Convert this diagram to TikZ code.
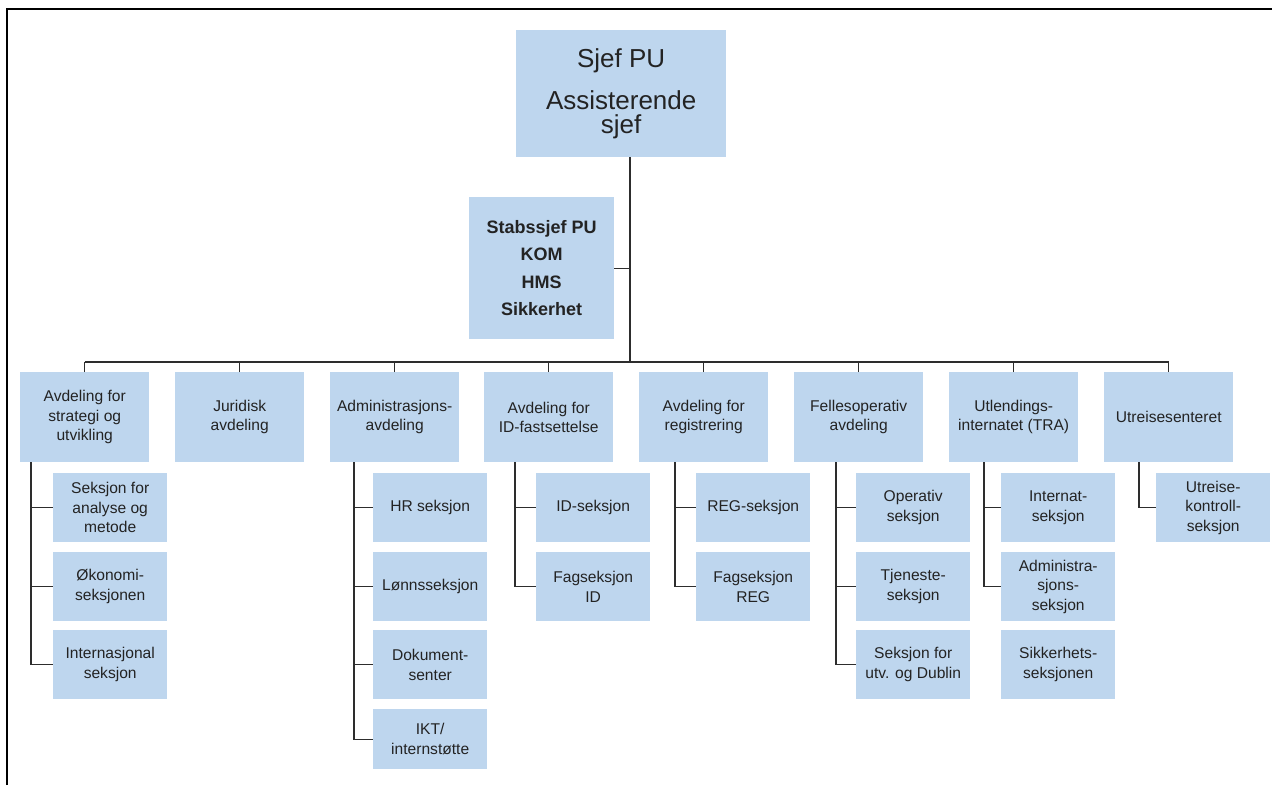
\documentclass[tikz,border=0pt]{standalone}
\usepackage{fontspec}
\setmainfont{Liberation Sans}
\definecolor{boxblue}{RGB}{190,214,238}
\definecolor{linegray}{RGB}{45,45,45}
\definecolor{textgray}{RGB}{35,35,35}
\begin{document}
\begin{tikzpicture}[x=1pt,y=-1pt,
  every node/.style={inner sep=0pt, align=center, text=textgray, fill=boxblue},
  topbox/.style={minimum width=210pt, minimum height=127pt, anchor=north west,
    font={\fontsize{26}{24}\selectfont}},
  staffbox/.style={minimum width=145pt, minimum height=142pt, anchor=north west,
    font={\fontsize{18}{27.5}\selectfont\bfseries}},
  deptbox/.style={minimum width=129pt, minimum height=90pt, anchor=north west,
    font={\fontsize{15.6}{19.5}\selectfont}},
  secbox/.style={minimum width=114pt, minimum height=69pt, anchor=north west,
    font={\fontsize{15.6}{19.5}\selectfont}},
  conn/.style={draw=linegray, line width=1.3pt},
  frame/.style={draw=black, line width=2pt}]
\useasboundingbox (0,0) rectangle (1272,785);

% frame lines
\draw[frame] (7,785) -- (7,9) -- (1272,9);

% leadership
\node[topbox] (top) at (516,30) {Sjef PU\\[16pt]Assisterende\\sjef};
\node[staffbox] (staff) at (469,197) {Stabssjef PU\\KOM\\HMS\\Sikkerhet};

% departments
\node[deptbox] (d1) at (20,372)   {Avdeling for\\strategi og\\utvikling};
\node[deptbox] (d2) at (175,372)  {Juridisk\\avdeling};
\node[deptbox] (d3) at (330,372)  {Administrasjons-\\avdeling};
\node[deptbox] (d4) at (484,372)  {Avdeling for\\ID-fastsettelse};
\node[deptbox] (d5) at (639,372)  {Avdeling for\\registrering};
\node[deptbox] (d6) at (794,372)  {Fellesoperativ\\avdeling};
\node[deptbox] (d7) at (949,372)  {Utlendings-\\internatet (TRA)};
\node[deptbox] (d8) at (1104,372) {Utreisesenteret};

% sections
\node[secbox] (s1a) at (53,473)  {Seksjon for\\analyse og\\metode};
\node[secbox] (s1b) at (53,552)  {Økonomi-\\seksjonen};
\node[secbox] (s1c) at (53,630)  {Internasjonal\\seksjon};

\node[secbox] (s3a) at (373,473) {HR seksjon};
\node[secbox] (s3b) at (373,552) {Lønnsseksjon};
\node[secbox] (s3c) at (373,630) {Dokument-\\senter};
\node[secbox, minimum height=60pt] (s3d) at (373,709) {IKT/\\internstøtte};

\node[secbox] (s4a) at (536,473) {ID-seksjon};
\node[secbox] (s4b) at (536,552) {Fagseksjon\\ID};

\node[secbox] (s5a) at (696,473) {REG-seksjon};
\node[secbox] (s5b) at (696,552) {Fagseksjon\\REG};

\node[secbox] (s6a) at (856,473) {Operativ\\seksjon};
\node[secbox] (s6b) at (856,552) {Tjeneste-\\seksjon};
\node[secbox] (s6c) at (856,630) {Seksjon for\\utv. og Dublin};

\node[secbox] (s7a) at (1001,473) {Internat-\\seksjon};
\node[secbox] (s7b) at (1001,552) {Administra-\\sjons-\\seksjon};
\node[secbox] (s7c) at (1001,630) {Sikkerhets-\\seksjonen};

\node[secbox] (s8a) at (1156,473) {Utreise-\\kontroll-\\seksjon};

% top connectors
\coordinate (trunk) at (630,157);
\coordinate (bus) at (630,362);
\draw[conn] (trunk) -- (bus);
\draw[conn] (staff.east) -- (staff.east -| bus);
\draw[conn] (d1.north |- bus) -- (d8.north |- bus);
\foreach \i in {1,...,8} \draw[conn] (d\i.north) -- (d\i.north |- bus);

% section connectors
\coordinate (v1) at (31,462);
\coordinate (v3) at (354,462);
\coordinate (v4) at (515,462);
\coordinate (v5) at (675,462);
\coordinate (v6) at (836,462);
\coordinate (v7) at (984,462);
\coordinate (v8) at (1139,462);

\draw[conn] (v1) |- (s1c.west);
\draw[conn] (v1 |- s1a.west) -- (s1a.west);
\draw[conn] (v1 |- s1b.west) -- (s1b.west);

\draw[conn] (v3) |- (s3d.west);
\draw[conn] (v3 |- s3a.west) -- (s3a.west);
\draw[conn] (v3 |- s3b.west) -- (s3b.west);
\draw[conn] (v3 |- s3c.west) -- (s3c.west);

\draw[conn] (v4) |- (s4b.west);
\draw[conn] (v4 |- s4a.west) -- (s4a.west);

\draw[conn] (v5) |- (s5b.west);
\draw[conn] (v5 |- s5a.west) -- (s5a.west);

\draw[conn] (v6) |- (s6c.west);
\draw[conn] (v6 |- s6a.west) -- (s6a.west);
\draw[conn] (v6 |- s6b.west) -- (s6b.west);

\draw[conn] (v7) |- (s7b.west);
\draw[conn] (v7 |- s7a.west) -- (s7a.west);

\draw[conn] (v8) |- (s8a.west);
\end{tikzpicture}
\end{document}
